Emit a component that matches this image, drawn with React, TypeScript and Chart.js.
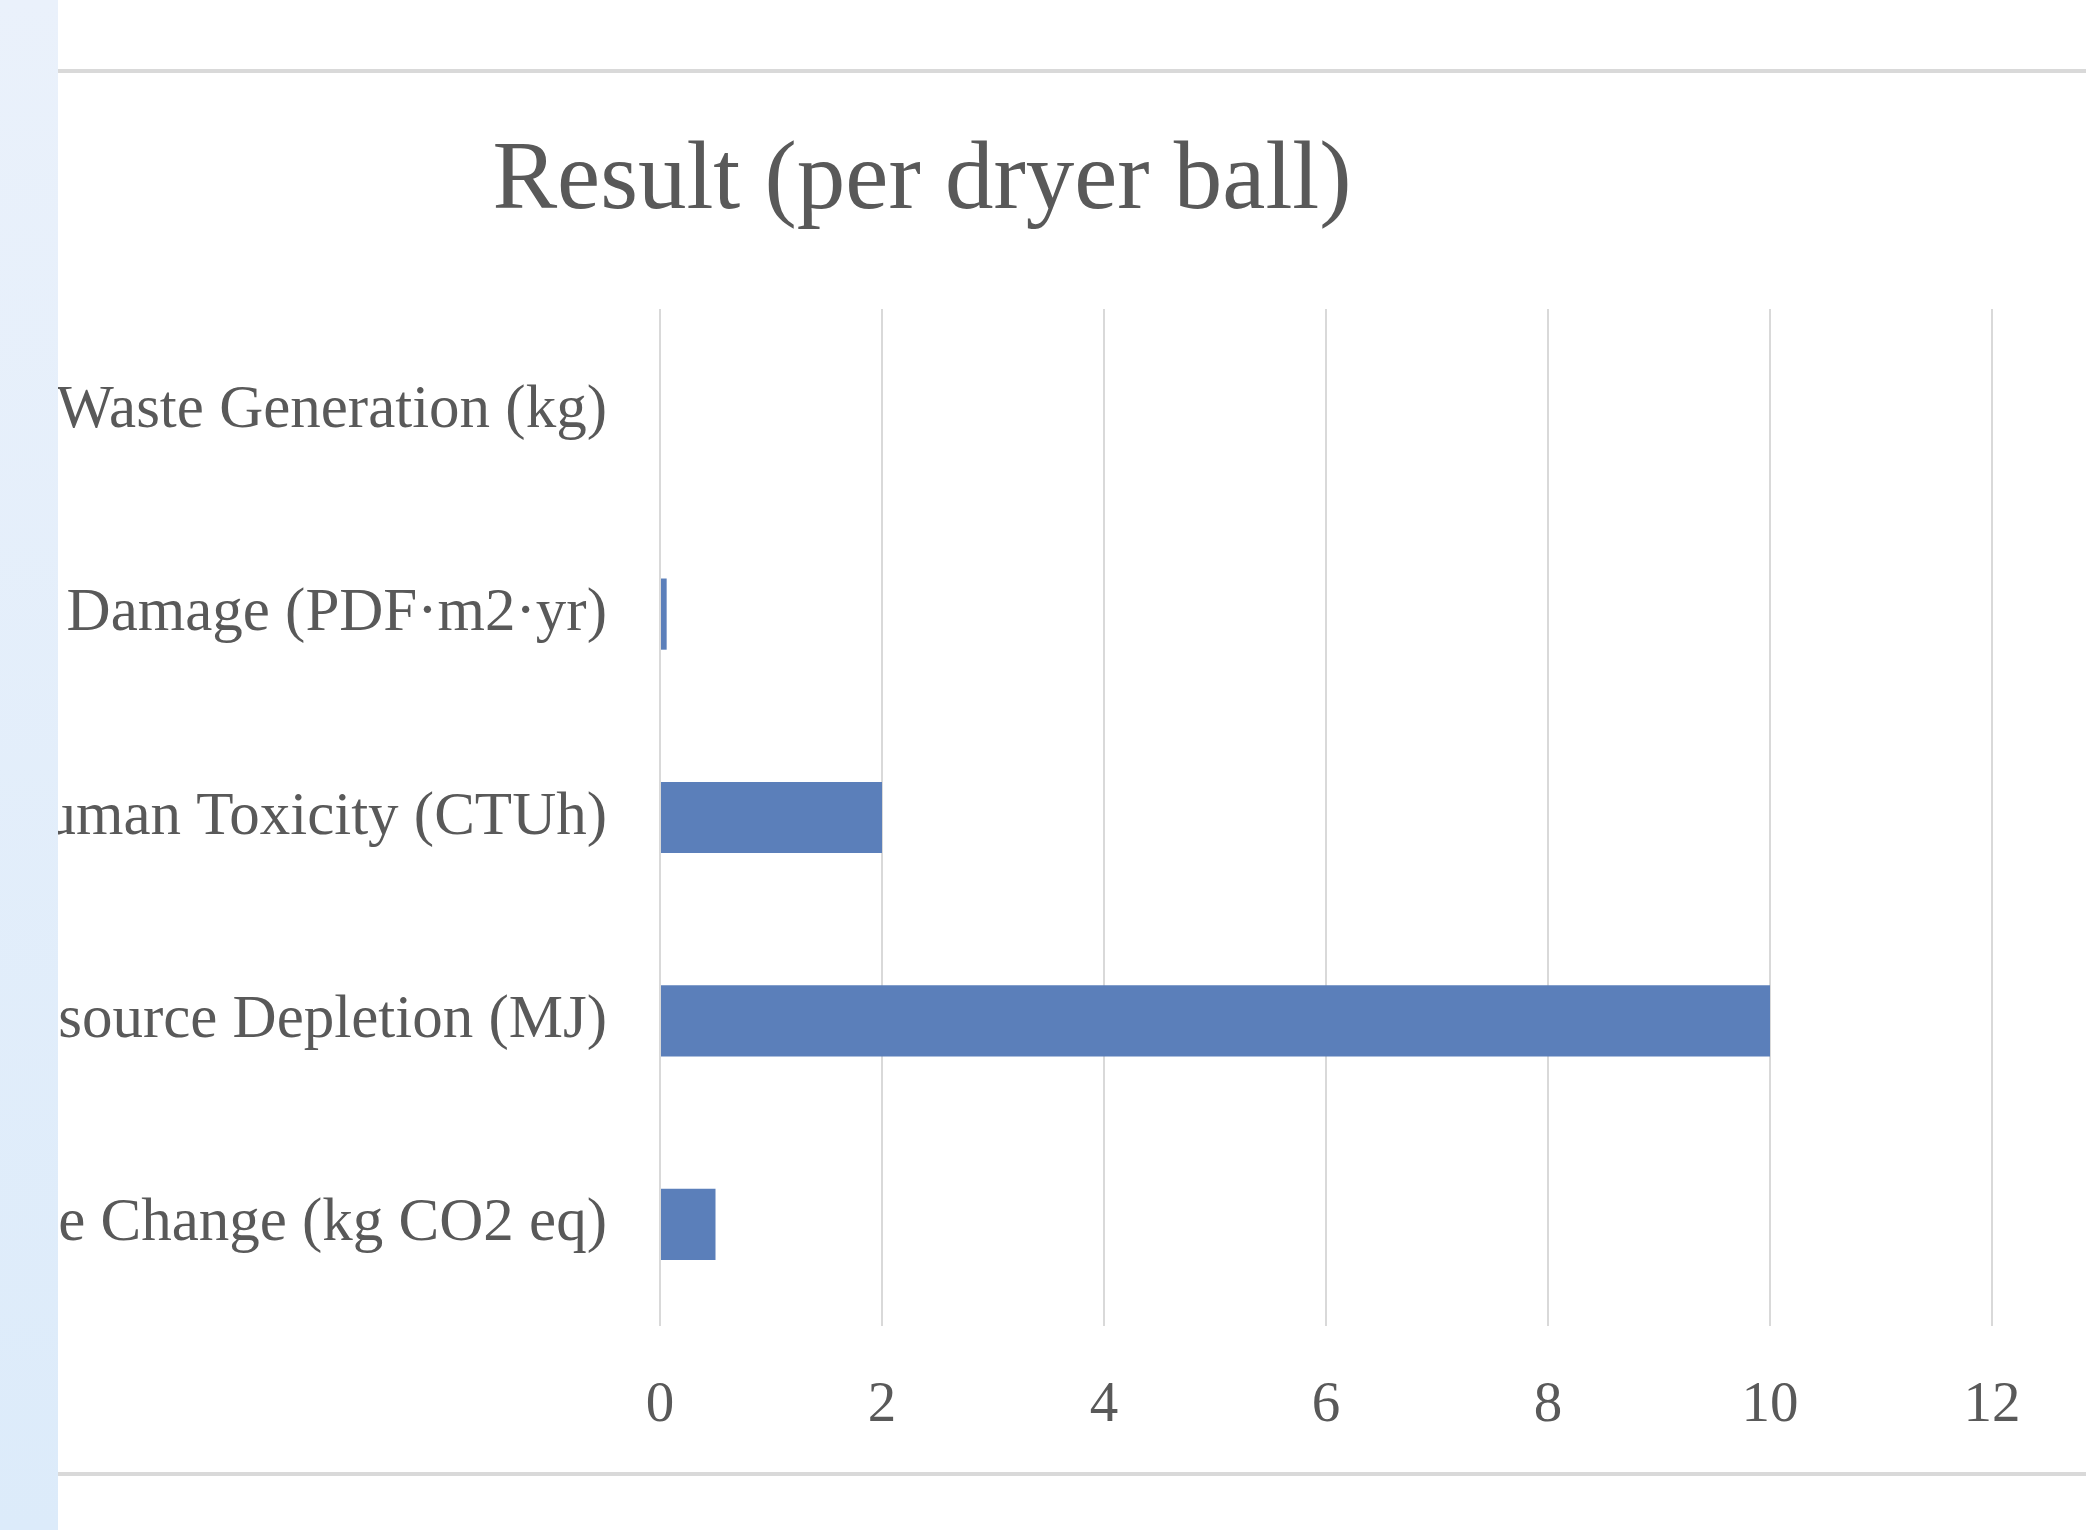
import React, { useEffect, useRef } from "react";
import { Chart, registerables } from "chart.js";

Chart.register(...registerables);

const categories: string[] = [
  "Climate Change (kg CO2 eq)",
  "Resource Depletion (MJ)",
  "Human Toxicity (CTUh)",
  "Ecosystem Damage (PDF·m2·yr)",
  "Waste Generation (kg)",
];
const values: number[] = [0.5, 10, 2, 0.06, 0];
const xTicks: number[] = [0, 2, 4, 6, 8, 10, 12];
const titleText = "Result (per dryer ball)";

const FONT = "'Liberation Serif', 'DejaVu Serif', serif";
const TEXT = "#595959";

export default function App() {
  const ref = useRef<HTMLCanvasElement | null>(null);

  useEffect(() => {
    if (!ref.current) return;
    const chart = new Chart(ref.current, {
      type: "bar",
      data: {
        labels: categories,
        datasets: [
          {
            data: values,
            backgroundColor: "#5b7fba",
            borderWidth: 0,
            barPercentage: 0.35,
            categoryPercentage: 1,
          },
        ],
      },
      options: {
        indexAxis: "y",
        responsive: false,
        animation: false,
        devicePixelRatio: 1,
        layout: { padding: { top: 229, right: 94, bottom: 0, left: 0 } },
        plugins: {
          legend: { display: false },
          title: { display: false },
          tooltip: { enabled: false },
        },
        scales: {
          x: {
            min: xTicks[0],
            max: xTicks[xTicks.length - 1],
            afterBuildTicks: (s: any) => {
              s.ticks = xTicks.map((v) => ({ value: v }));
            },
            afterFit: (s: any) => {
              s.height = 144;
            },
            grid: { color: "#d9d9d9", lineWidth: 2, drawTicks: false },
            border: { display: false },
            ticks: {
              padding: 46,
              color: TEXT,
              font: { family: FONT, size: 57 },
            },
          },
          y: {
            reverse: true,
            afterFit: (s: any) => {
              s.width = 602;
            },
            grid: { display: false, drawTicks: false },
            border: { display: false },
            ticks: {
              padding: 53,
              color: TEXT,
              font: { family: FONT, size: 61 },
            },
          },
        },
      },
    });
    return () => chart.destroy();
  }, []);

  return (
    <div
      style={{
        position: "fixed",
        left: 0,
        top: 0,
        width: 2086,
        height: 1530,
        background: "#ffffff",
        overflow: "hidden",
      }}
    >
      <div
        style={{
          position: "absolute",
          left: 58,
          top: 69,
          width: 2028,
          height: 4,
          background: "#d9d9d9",
        }}
      />
      <div
        style={{
          position: "absolute",
          left: 58,
          top: 1472,
          width: 2028,
          height: 4,
          background: "#d9d9d9",
        }}
      />
      <div
        style={{
          position: "absolute",
          left: 322,
          top: 118,
          width: 1200,
          textAlign: "center",
          fontFamily: FONT,
          fontSize: 97,
          lineHeight: "116px",
          color: TEXT,
        }}
      >
        {titleText}
      </div>
      <canvas
        ref={ref}
        width={2028}
        height={1390}
        style={{ position: "absolute", left: 58, top: 80, width: 2028, height: 1390 }}
      />
      <div
        style={{
          position: "absolute",
          left: 0,
          top: 0,
          width: 58,
          height: 1530,
          background: "linear-gradient(180deg, #eaf1fb 0%, #dcebfa 100%)",
        }}
      />
    </div>
  );
}
